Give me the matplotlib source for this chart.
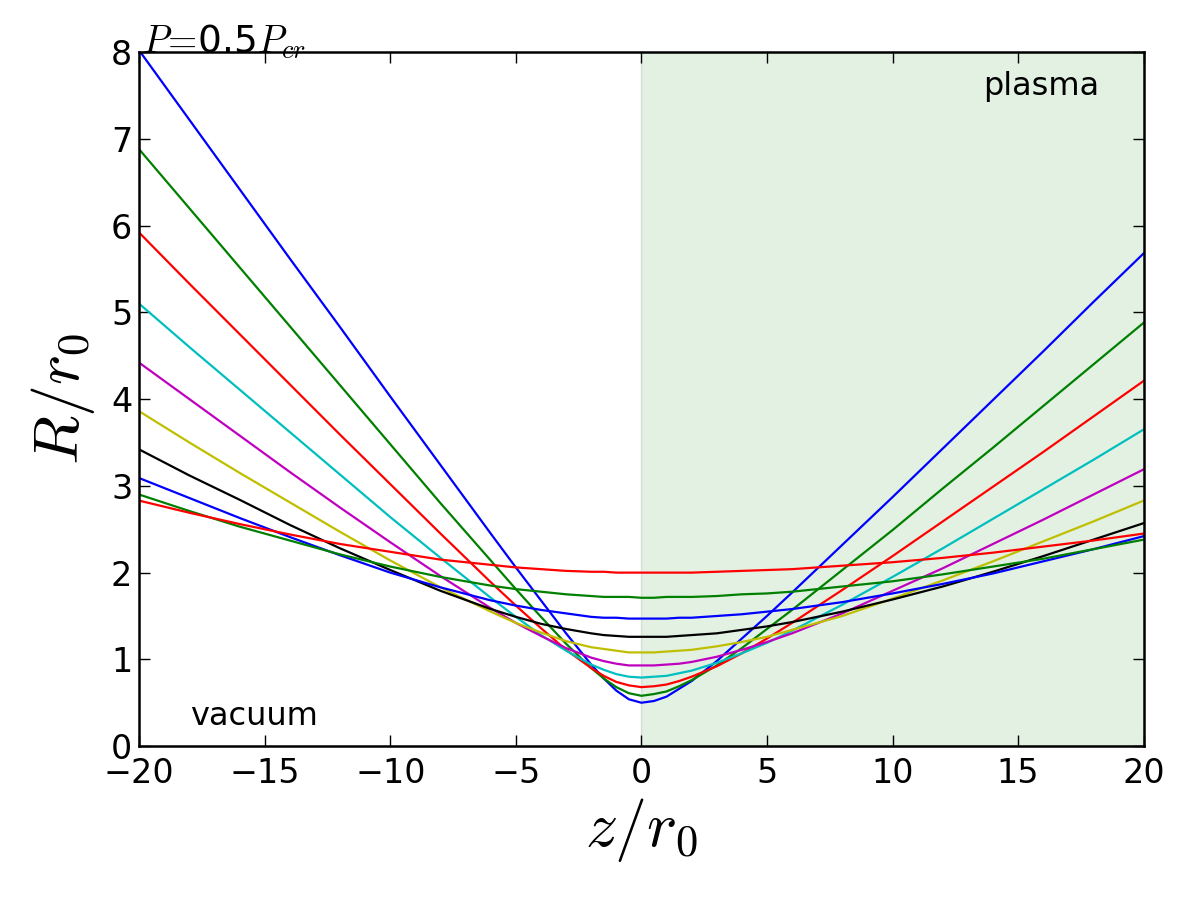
import matplotlib
matplotlib.use("Agg")
import matplotlib.pyplot as plt

plt.rcParams['mathtext.fontset'] = 'cm'
plt.rcParams['font.family'] = ['DejaVu Sans']

z = [-20, -18, -16, -14, -12, -10, -8, -6, -5, -4, -3, -2, -1.5, -1, -0.5, 0,
     0.5, 1, 1.5, 2, 3, 4, 5, 6, 8, 10, 12, 14, 16, 18, 20]

R1 = [8.02, 7.22, 6.42, 5.62, 4.83, 4.03, 3.24, 2.45, 2.06, 1.68, 1.30, 0.94, 0.78, 0.64, 0.54, 0.50,
      0.52, 0.57, 0.66, 0.75, 0.98, 1.24, 1.50, 1.77, 2.32, 2.87, 3.43, 3.99, 4.55, 5.12, 5.68]
R2 = [6.88, 6.20, 5.52, 4.84, 4.16, 3.48, 2.80, 2.14, 1.81, 1.49, 1.18, 0.90, 0.78, 0.68, 0.61, 0.58,
      0.60, 0.63, 0.69, 0.76, 0.93, 1.13, 1.35, 1.57, 2.03, 2.49, 2.97, 3.44, 3.92, 4.40, 4.88]
R3 = [5.92, 5.33, 4.75, 4.17, 3.59, 3.02, 2.45, 1.89, 1.62, 1.36, 1.11, 0.90, 0.81, 0.74, 0.70, 0.68,
      0.69, 0.71, 0.75, 0.80, 0.92, 1.07, 1.24, 1.42, 1.80, 2.19, 2.59, 2.99, 3.39, 3.80, 4.21]
R4 = [5.10, 4.60, 4.11, 3.62, 3.13, 2.64, 2.17, 1.71, 1.49, 1.28, 1.10, 0.94, 0.88, 0.83, 0.80, 0.79,
      0.80, 0.81, 0.84, 0.87, 0.96, 1.07, 1.19, 1.33, 1.63, 1.95, 2.28, 2.62, 2.96, 3.30, 3.65]
R5 = [4.42, 4.00, 3.58, 3.16, 2.75, 2.35, 1.96, 1.59, 1.42, 1.27, 1.13, 1.02, 0.98, 0.95, 0.93, 0.93,
      0.93, 0.94, 0.95, 0.97, 1.03, 1.11, 1.20, 1.30, 1.53, 1.79, 2.05, 2.33, 2.61, 2.90, 3.19]
R6 = [3.86, 3.50, 3.15, 2.81, 2.47, 2.14, 1.83, 1.55, 1.42, 1.31, 1.21, 1.14, 1.12, 1.10, 1.08, 1.08,
      1.08, 1.09, 1.10, 1.11, 1.15, 1.20, 1.26, 1.34, 1.50, 1.70, 1.91, 2.13, 2.36, 2.59, 2.83]
R7 = [3.42, 3.12, 2.84, 2.55, 2.28, 2.03, 1.79, 1.58, 1.49, 1.41, 1.35, 1.30, 1.28, 1.27, 1.26, 1.26,
      1.26, 1.26, 1.27, 1.28, 1.30, 1.34, 1.38, 1.43, 1.55, 1.69, 1.84, 2.01, 2.19, 2.38, 2.57]
R8 = [3.09, 2.86, 2.63, 2.41, 2.20, 2.00, 1.83, 1.68, 1.62, 1.57, 1.53, 1.49, 1.48, 1.48, 1.47, 1.47,
      1.47, 1.47, 1.48, 1.48, 1.50, 1.52, 1.55, 1.58, 1.66, 1.76, 1.87, 1.99, 2.13, 2.27, 2.42]
R9 = [2.90, 2.71, 2.53, 2.37, 2.21, 2.07, 1.95, 1.85, 1.81, 1.78, 1.75, 1.73, 1.72, 1.72, 1.72, 1.71,
      1.71, 1.72, 1.72, 1.72, 1.73, 1.75, 1.76, 1.78, 1.84, 1.90, 1.98, 2.07, 2.16, 2.27, 2.38]
R10 = [2.83, 2.69, 2.56, 2.44, 2.33, 2.24, 2.15, 2.09, 2.06, 2.04, 2.02, 2.01, 2.01, 2.00, 2.00, 2.00,
       2.00, 2.00, 2.00, 2.00, 2.01, 2.02, 2.03, 2.04, 2.08, 2.12, 2.17, 2.23, 2.30, 2.37, 2.45]

series = [R1, R2, R3, R4, R5, R6, R7, R8, R9, R10]
colors = ['b', 'g', 'r', 'c', 'm', 'y', 'k', 'b', 'g', 'r']

xticks = [-20, -15, -10, -5, 0, 5, 10, 15, 20]
yticks = [0, 1, 2, 3, 4, 5, 6, 7, 8]

fig = plt.figure(figsize=(12, 9), dpi=100)
ax = fig.add_axes([0.116, 0.171, 0.837, 0.771])

ax.axvspan(0, 20, facecolor=(0.0, 0.5, 0.0), edgecolor='k', alpha=0.11, linewidth=1.0)

for R, c in zip(series, colors):
    ax.plot(z, R, color=c, linewidth=1.6)

ax.set_xlim(-20, 20)
ax.set_ylim(0, 8)
ax.set_xticks(xticks)
ax.set_yticks(yticks)
ax.tick_params(direction='in', length=8, width=1, top=True, right=True,
               labelsize=24)
ax.tick_params(axis='x', pad=8)
ax.tick_params(axis='y', pad=5)
for s in ax.spines.values():
    s.set_linewidth(1.8)

ax.set_xlabel(r'$z/r_0$', fontsize=46, labelpad=4)
ax.set_ylabel(r'$R/r_0$', fontsize=46, labelpad=10)

ax.text(0.956, 0.938, 'plasma', transform=ax.transAxes, ha='right', va='baseline', fontsize=23)
ax.text(0.051, 0.030, 'vacuum', transform=ax.transAxes, ha='left', va='baseline', fontsize=23)
ax.text(0.003, 1.0, r'$P\!=\!$0.5$P_{cr}$', transform=ax.transAxes, ha='left', va='baseline',
        fontsize=27)

fig.savefig('out.png', dpi=100)
